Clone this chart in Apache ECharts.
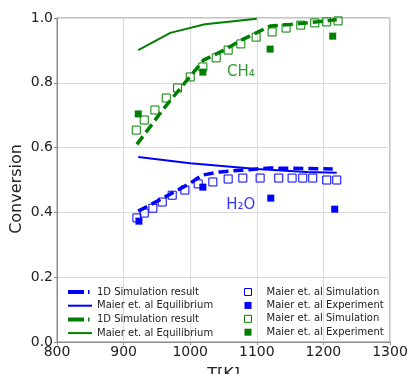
<!DOCTYPE html>
<html>
<head>
<meta charset="utf-8">
<script src="https://cdn.jsdelivr.net/npm/echarts@6/dist/echarts.min.js"></script>
<style>
  html, body { margin: 0; padding: 0; background: #fff; }
  #chart { width: 410px; height: 374px; }
</style>
</head>
<body>
<div id="chart"></div>
<script>
// CH4 values
const ch4SimT = [920, 960, 1000, 1020, 1050, 1080, 1100, 1120, 1150, 1200, 1220]
const ch4SimC = [0.61, 0.72, 0.82, 0.87, 0.90, 0.935, 0.955, 0.975, 0.98, 0.99, 0.995]
const ch4EqT = [922, 970, 1022, 1100]
const ch4EqC = [0.901, 0.954, 0.981, 0.998]
const ch4MaierSimT = [919, 931, 947, 964, 981, 1000, 1019, 1039, 1057, 1076, 1099, 1123, 1144, 1166, 1187, 1205, 1222]
const ch4MaierSimC = [0.654, 0.685, 0.716, 0.753, 0.784, 0.818, 0.849, 0.877, 0.901, 0.920, 0.941, 0.957, 0.969, 0.978, 0.985, 0.988, 0.991]
const ch4ExpT = [922, 1019, 1120, 1214]
const ch4ExpC = [0.704, 0.833, 0.904, 0.944]

// H2O values
const h2oSimT = [922, 959, 1000, 1018, 1045, 1100, 1120, 1214]
const h2oSimC = [0.404, 0.444, 0.490, 0.515, 0.525, 0.534, 0.537, 0.534]
const h2oEqT = [922, 1000, 1100, 1175, 1220]
const h2oEqC = [0.571, 0.552, 0.534, 0.525, 0.522]
const h2oMaierSimT = [920, 931, 944, 958, 973, 992, 1012, 1034, 1057, 1079, 1105, 1133, 1153, 1169, 1184, 1205, 1220]
const h2oMaierSimC = [0.383, 0.398, 0.413, 0.432, 0.453, 0.469, 0.488, 0.494, 0.503, 0.506, 0.506, 0.506, 0.506, 0.506, 0.506, 0.500, 0.500]
const h2oExpT = [923, 1019, 1121, 1217]
const h2oExpC = [0.373, 0.478, 0.444, 0.410]

const xTicks = [800, 900, 1000, 1100, 1200, 1300]
const yTicks = [0.0, 0.2, 0.4, 0.6, 0.8, 1.0]

const legendNames = {
  h2oSim: '1D Simulation result',
  h2oEq: 'Maier et. al Equilibrium',
  ch4Sim: '1D Simulation result',
  ch4Eq: 'Maier et. al Equilibrium',
  h2oMaierSim: 'Maier et. al Simulation',
  h2oExp: 'Maier et. al Experiment',
  ch4MaierSim: 'Maier et. al Simulation',
  ch4Exp: 'Maier et. al Experiment'
}

const BLUE = '#0000ff'
const GREEN = '#008000'
const FONT = 'DejaVu Sans'

const zip = (xs, ys) => xs.map((x, i) => [x, ys[i]])

const dashIcon = 'path://M0,0 M0,3h16v4h-16z M20,3h1.5v4h-1.5z M24,10'
const solidIcon = 'path://M0,0 M0,4h24v2h-24z M24,10'

const chart = echarts.init(document.getElementById('chart'))

const lineSeries = (name, data, color, dashed) => ({
  name,
  type: 'line',
  data,
  symbol: 'none',
  z: dashed ? 4 : 3,
  lineStyle: dashed
    ? { color, width: 3.5, type: [10, 5] }
    : { color, width: 2 },
  itemStyle: { color }
})

const squareSeries = (name, data, color, filled) => ({
  name,
  type: 'scatter',
  data,
  symbol: 'rect',
  symbolSize: filled ? 7 : 8,
  z: 2,
  itemStyle: filled
    ? { color, opacity: 1 }
    : { color: 'rgba(255,255,255,0)', borderColor: color, borderWidth: 1, opacity: 1 }
})

// legend swatch for the hollow squares
const hollow = color => ({ color: '#fff', borderColor: color, borderWidth: 1 })

const option = {
  animation: false,
  grid: {
    left: 57, right: 20, top: 18, bottom: 32,
    containLabel: false, outerBoundsMode: 'none',
    show: true, borderColor: '#8a8a8a', borderWidth: 1
  },
  xAxis: {
    type: 'value',
    min: xTicks[0],
    max: xTicks[xTicks.length - 1],
    interval: 100,
    name: 'T[K]',
    nameLocation: 'middle',
    nameGap: 25,
    nameTextStyle: { fontFamily: FONT, fontSize: 16, color: '#222' },
    axisLine: { show: true, lineStyle: { color: '#8a8a8a' } },
    axisTick: { show: true, length: 3, lineStyle: { color: '#8a8a8a' } },
    axisLabel: { fontFamily: FONT, fontSize: 14, color: '#222', margin: 3, formatter: v => String(v) },
    splitLine: { lineStyle: { color: '#dcdcdc' } }
  },
  yAxis: {
    type: 'value',
    min: yTicks[0],
    max: yTicks[yTicks.length - 1],
    interval: 0.2,
    axisLine: { show: true, lineStyle: { color: '#8a8a8a' } },
    axisTick: { show: true, length: 3, lineStyle: { color: '#8a8a8a' } },
    axisLabel: { fontFamily: FONT, fontSize: 14, color: '#222', margin: 4, formatter: v => v.toFixed(1) },
    splitLine: { lineStyle: { color: '#dcdcdc' } }
  },
  graphic: [{
    type: 'text',
    x: 17,
    y: 189,
    rotation: Math.PI / 2,
    style: { text: 'Conversion', fontFamily: FONT, fontSize: 16, fill: '#222', align: 'center', verticalAlign: 'middle' }
  }],
  legend: [
    {
      left: 63,
      top: 282,
      orient: 'vertical',
      itemWidth: 24,
      itemHeight: 10,
      itemGap: 3.7,
      textStyle: { fontFamily: FONT, fontSize: 10, color: '#222' },
      formatter: n => legendNames[n],
      data: [
        { name: 'h2oSim', icon: dashIcon },
        { name: 'h2oEq', icon: solidIcon },
        { name: 'ch4Sim', icon: dashIcon },
        { name: 'ch4Eq', icon: solidIcon }
      ]
    },
    {
      left: 239,
      top: 282,
      orient: 'vertical',
      itemWidth: 7,
      itemHeight: 7,
      itemGap: 3.4,
      textStyle: { fontFamily: FONT, fontSize: 10, color: '#222', padding: [0, 0, 0, 10] },
      formatter: n => legendNames[n],
      data: [
        { name: 'h2oMaierSim', icon: 'rect', itemStyle: hollow(BLUE) },
        { name: 'h2oExp', icon: 'rect' },
        { name: 'ch4MaierSim', icon: 'rect', itemStyle: hollow(GREEN) },
        { name: 'ch4Exp', icon: 'rect' }
      ]
    }
  ],
  series: [
    lineSeries('h2oSim', zip(h2oSimT, h2oSimC), BLUE, true),
    lineSeries('h2oEq', zip(h2oEqT, h2oEqC), BLUE, false),
    lineSeries('ch4Sim', zip(ch4SimT, ch4SimC), GREEN, true),
    lineSeries('ch4Eq', zip(ch4EqT, ch4EqC), GREEN, false),
    squareSeries('h2oMaierSim', zip(h2oMaierSimT, h2oMaierSimC), BLUE, false),
    squareSeries('h2oExp', zip(h2oExpT, h2oExpC), BLUE, true),
    squareSeries('ch4MaierSim', zip(ch4MaierSimT, ch4MaierSimC), GREEN, false),
    squareSeries('ch4Exp', zip(ch4ExpT, ch4ExpC), GREEN, true),
    {
      type: 'scatter',
      symbolSize: 0,
      silent: true,
      data: [
        { value: [1076, 0.833], name: 'CH₄', label: { color: GREEN } },
        { value: [1076, 0.423], name: 'H₂O', label: { color: BLUE } }
      ],
      label: {
        show: true,
        position: 'inside',
        fontFamily: FONT,
        fontSize: 15,
        formatter: p => p.name
      }
    }
  ]
}

chart.setOption(option)
</script>
</body>
</html>
